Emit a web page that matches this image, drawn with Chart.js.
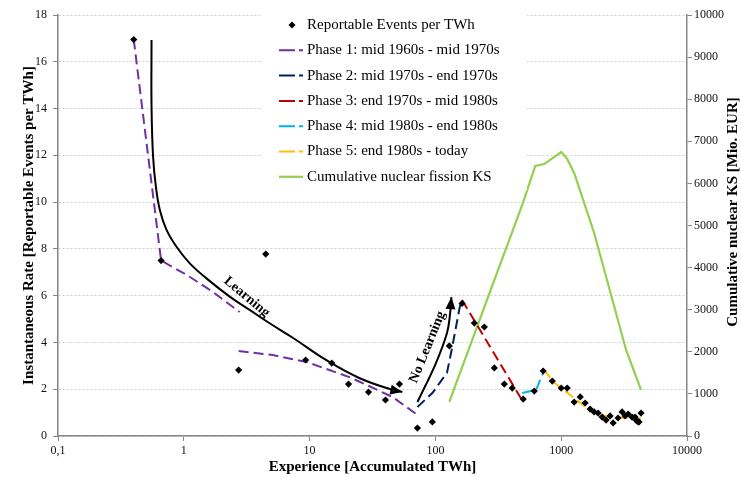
<!DOCTYPE html>
<html lang="en">
<head>
  <meta charset="UTF-8">
  <title>Reportable Events vs. Experience</title>
  <script src="https://cdn.jsdelivr.net/npm/chart.js"></script>
  <style>
    * { margin: 0; padding: 0; box-sizing: border-box; }
    body { background: #fff; }
    .chart-box { position: relative; width: 741px; height: 477px; }
  </style>
</head>
<body>
  <div class="chart-box"><canvas id="learningChart"></canvas></div>

  <script>
    // ---- data ----
    const xTicks = [0.1, 1, 10, 100, 1000, 10000];

    const eventsX = [0.4, 0.66, 2.73, 4.48, 9.3, 15.0, 20.4, 29.4, 40.1, 51.8, 72, 94.6,
      129, 163, 204, 245, 294, 353, 408, 499, 611, 719, 849, 1000, 1116, 1268, 1416, 1550,
      1698, 1828, 1966, 2115, 2275, 2447, 2588, 2831, 3048, 3220, 3404, 3660, 3865, 3937,
      4083, 4157, 4311];
    const eventsY = [16.95, 7.5, 2.82, 7.78, 3.25, 3.12, 2.22, 1.88, 1.54, 2.22, 0.34, 0.6,
      3.85, 5.67, 4.83, 4.66, 2.91, 2.22, 2.05, 1.58, 1.92, 2.78, 2.35, 2.05, 2.05, 1.45, 1.67, 1.41,
      1.15, 1.03, 0.98, 0.81, 0.68, 0.86, 0.56, 0.77, 1.03, 0.86, 0.94, 0.81, 0.81, 0.68,
      0.6, 0.6, 0.98];

    const phase1X = [0.4, 0.66, 1.06, 1.7, 2.78, 2.75, 2.73, 5.1, 9.5, 20.7, 45.6, 72];
    const phase1Y = [16.95, 7.5, 6.88, 6.16, 5.3, null, 3.63, 3.46, 3.16, 2.52, 1.67, 0.9];
    const phase2X = [72, 94.6, 123.6, 136, 156, 161];
    const phase2Y = [1.24, 1.84, 2.7, 3.8, 5.5, 5.81];
    const phase3X = [163, 499];
    const phase3Y = [5.81, 1.45];
    const phase4X = [490, 632, 733];
    const phase4Y = [1.84, 1.97, 2.82];
    const phase5X = [733, 872, 1000, 1268, 1762, 2392, 3342, 4311];
    const phase5Y = [2.82, 2.3, 2.05, 1.62, 1.03, 0.81, 0.77, 0.75];

    const ksX = [129, 294, 490, 622, 733, 1000, 1116, 1268, 1828, 3280, 4311];
    const ksY = [808, 3705, 5487, 6413, 6460, 6746, 6580, 6247, 4822, 2043, 1093];

    const learningX = [0.554, 0.554, 0.57, 0.6, 0.645, 0.729, 0.875, 1.116, 1.514, 2.317,
      3.34, 4.81, 7.35, 13.6, 24.8, 45.6, 54.6];
    const learningY = [16.93, 14.08, 11.94, 10.66, 9.66, 8.81, 8.09, 7.38, 6.74, 5.96,
      5.39, 4.82, 4.2, 3.24, 2.48, 1.97, 1.88];
    const noLearningX = [72, 101, 123.6, 131, 134];
    const noLearningY = [1.45, 3.12, 4.4, 5.26, 5.94];

    const noteTexts = ['Learning', 'No Learning'];
    const noteX = [3.16, 86.5];
    const noteY = [5.94, 3.8];
    const noteAngles = [40, -68];

    const seriesNames = [
      'Reportable Events per TWh',
      'Phase 1: mid 1960s - mid 1970s',
      'Phase 2: mid 1970s - end 1970s',
      'Phase 3: end 1970s - mid 1980s',
      'Phase 4: mid 1980s - end 1980s',
      'Phase 5: end 1980s - today',
      'Cumulative nuclear fission KS'
    ];
    const rightTitle = 'Cumulative nuclear KS [Mio. EUR]';

    const FONT = "'Liberation Serif', 'Times New Roman', serif";
    const AXIS_GREY = '#868686';

    function zip(xs, ys) {
      return xs.map((x, i) => ({ x: x, y: ys[i] }));
    }

    function phaseLine(label, xs, ys, color) {
      return {
        type: 'line', label: label, data: zip(xs, ys),
        borderColor: color, backgroundColor: color, borderWidth: 2,
        borderDash: [10, 5], pointRadius: 0, tension: 0, legend: true
      };
    }

    // arrow heads on the two hand drawn curves
    const arrowHeads = {
      id: 'arrowHeads',
      afterDatasetsDraw(chart) {
        const ctx = chart.ctx;
        chart.data.datasets.forEach((ds, i) => {
          if (!ds.arrow) return;
          const pts = chart.getDatasetMeta(i).data;
          const tip = pts[pts.length - 1];
          const prev = pts[pts.length - 2];
          let fx = tip.cp1x, fy = tip.cp1y;
          if (fx === undefined || Math.hypot(tip.x - fx, tip.y - fy) < 1) {
            fx = prev.x; fy = prev.y;
          }
          const ang = Math.atan2(tip.y - fy, tip.x - fx);
          ctx.save();
          ctx.translate(tip.x, tip.y);
          ctx.rotate(ang);
          ctx.beginPath();
          ctx.moveTo(0, 0);
          ctx.lineTo(-12, -5);
          ctx.lineTo(-12, 5);
          ctx.closePath();
          ctx.fillStyle = ds.borderColor;
          ctx.fill();
          ctx.restore();
        });
      }
    };

    const curveNotes = {
      id: 'curveNotes',
      afterDatasetsDraw(chart) {
        const { ctx, scales: { x, y } } = chart;
        noteTexts.forEach((t, i) => {
          ctx.save();
          ctx.translate(x.getPixelForValue(noteX[i]), y.getPixelForValue(noteY[i]));
          ctx.rotate(noteAngles[i] * Math.PI / 180);
          ctx.font = 'bold 14px ' + FONT;
          ctx.textAlign = 'center';
          ctx.textBaseline = 'middle';
          ctx.fillStyle = '#000';
          ctx.fillText(t, 0, 0);
          ctx.restore();
        });
      }
    };

    // Excel style legend box inside the plot + right axis title (reads upward)
    const boxLegend = {
      id: 'boxLegend',
      afterDraw(chart) {
        const ctx = chart.ctx;
        const left = 262, top = 12, rowH = 25.3, firstRow = 25;
        ctx.save();
        ctx.fillStyle = '#fff';
        ctx.fillRect(left, top, 265, 178);
        const items = chart.data.datasets.filter(ds => ds.legend);
        items.forEach((ds, i) => {
          const cy = firstRow + i * rowH;
          if (ds.showLine === false) {
            ctx.fillStyle = '#000';
            ctx.beginPath();
            ctx.moveTo(292, cy - 3.5); ctx.lineTo(295.5, cy);
            ctx.lineTo(292, cy + 3.5); ctx.lineTo(288.5, cy);
            ctx.closePath();
            ctx.fill();
          } else {
            ctx.strokeStyle = ds.borderColor;
            ctx.lineWidth = ds.borderWidth;
            ctx.setLineDash(ds.borderDash ? [16, 4] : []);
            ctx.beginPath();
            ctx.moveTo(279, cy);
            ctx.lineTo(303, cy);
            ctx.stroke();
          }
          ctx.setLineDash([]);
          ctx.fillStyle = '#000';
          ctx.font = '15px ' + FONT;
          ctx.textAlign = 'left';
          ctx.textBaseline = 'middle';
          ctx.fillText(ds.label, 307, cy);
        });

        ctx.translate(733, 212);
        ctx.rotate(-Math.PI / 2);
        ctx.font = 'bold 15px ' + FONT;
        ctx.textAlign = 'center';
        ctx.textBaseline = 'middle';
        ctx.fillText(rightTitle, 0, 0);
        ctx.restore();
      }
    };

    const ctx = document.getElementById('learningChart').getContext('2d');
    new Chart(ctx, {
      type: 'scatter',
      data: {
        datasets: [
          {
            label: seriesNames[0], data: zip(eventsX, eventsY), showLine: false,
            pointStyle: 'rectRot', pointRadius: 3.6, borderWidth: 0,
            backgroundColor: '#000', borderColor: '#000', legend: true
          },
          phaseLine(seriesNames[1], phase1X, phase1Y, '#7030A0'),
          phaseLine(seriesNames[2], phase2X, phase2Y, '#002060'),
          phaseLine(seriesNames[3], phase3X, phase3Y, '#C00000'),
          phaseLine(seriesNames[4], phase4X, phase4Y, '#00B0F0'),
          phaseLine(seriesNames[5], phase5X, phase5Y, '#FFC000'),
          {
            type: 'line', label: seriesNames[6], data: zip(ksX, ksY), yAxisID: 'y2',
            borderColor: '#92D050', backgroundColor: '#92D050', borderWidth: 2.2,
            pointRadius: 0, tension: 0, legend: true
          },
          {
            type: 'line', label: 'Learning', data: zip(learningX, learningY),
            borderColor: '#000', borderWidth: 2, pointRadius: 0,
            tension: 0.4, arrow: true
          },
          {
            type: 'line', label: 'No Learning', data: zip(noLearningX, noLearningY),
            borderColor: '#000', borderWidth: 2, pointRadius: 0,
            tension: 0.4, arrow: true
          }
        ]
      },
      options: {
        responsive: true,
        maintainAspectRatio: false,
        animation: false,
        layout: { padding: { top: 15, left: 0, right: 0, bottom: 0 } },
        plugins: { legend: { display: false }, tooltip: { enabled: false } },
        scales: {
          x: {
            type: 'logarithmic', min: 0.1, max: 10000,
            afterBuildTicks: s => { s.ticks = xTicks.map(v => ({ value: v })); },
            afterFit: s => { s.height = 41; },
            ticks: {
              autoSkip: false, maxRotation: 0, padding: 3, color: '#111',
              font: { family: FONT, size: 12 },
              callback: v => v === 0.1 ? '0,1' : String(v)
            },
            grid: { drawOnChartArea: false, drawTicks: true, tickLength: 5, tickColor: AXIS_GREY },
            border: { color: AXIS_GREY, width: 1.5 },
            title: {
              display: true, text: 'Experience [Accumulated TWh]', color: '#000',
              font: { family: FONT, size: 15, weight: 'bold' }, padding: { top: 0, bottom: 1 }
            }
          },
          y: {
            position: 'left', min: 0, max: 18,
            afterFit: s => { s.width = 58; },
            ticks: { stepSize: 2, padding: 6, color: '#111', font: { family: FONT, size: 12 } },
            grid: { color: '#cfcfcf', lineWidth: 1, tickLength: 5, tickColor: AXIS_GREY },
            border: { color: AXIS_GREY, width: 1.5, dash: [2, 2] },
            title: {
              display: true, text: 'Instantaneous Rate [Reportable Events per TWh]', color: '#000',
              font: { family: FONT, size: 15, weight: 'bold' }, padding: { top: 20, bottom: 0 }
            }
          },
          y2: {
            position: 'right', min: 0, max: 10000,
            afterFit: s => { s.width = 54; },
            ticks: {
              stepSize: 1000, padding: 2, color: '#111', font: { family: FONT, size: 12 },
              callback: v => String(v)
            },
            grid: { drawOnChartArea: false, tickLength: 5, tickColor: AXIS_GREY },
            border: { color: AXIS_GREY, width: 1.5 }
          }
        }
      },
      plugins: [arrowHeads, curveNotes, boxLegend]
    });
  </script>
</body>
</html>
